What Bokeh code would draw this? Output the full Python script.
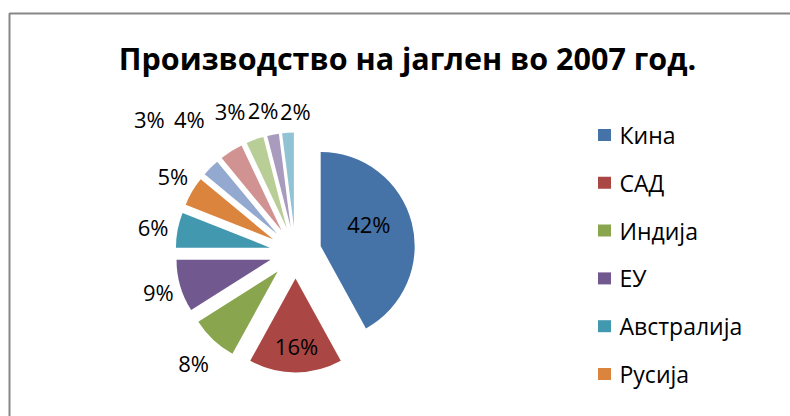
import numpy as np
from bokeh.plotting import figure
from bokeh.models import Range1d, ColumnDataSource
from bokeh.core.properties import value
from bokeh.embed import file_html
from bokeh.resources import INLINE

# ---------------- data ----------------
title_text = "Производство на јаглен во 2007 год."
categories = ["Кина", "САД", "Индија", "ЕУ", "Австралија", "Русија",
              "Индонезија", "Јужна Африка", "Казахстан", "Полска", "Колумбија"]
shares = [42, 16, 8, 9, 6, 5, 3, 4, 3, 2, 2]
pct_labels = [f"{v}%" for v in shares]
colors = ["#4572A7", "#AA4643", "#89A54E", "#71588F", "#4198AF", "#DB843D",
          "#93A9CF", "#D19392", "#B9CD96", "#A99BBD", "#92C3D5"]
legend_shown = 6

# ---------------- layout ----------------
W, H = 790, 416
FONT = "Open Sans"
CX, CY = 295, 164        # pie centre
R, EXP = 94, 26          # radius, explosion offset
R_IN, R_OUT = 85, 146    # label radii
inside = [True, True] + [False] * 9
nudges = [(-9, 7), (1, -8), (-2, -4), (3, 1), (1, -2), (3, 2),
          (-43, 30), (-28, 10), (-16, 4), (-5, -1), (9, -4)]

p = figure(width=W, height=H, x_range=Range1d(0, W), y_range=Range1d(0, H),
           output_backend="svg", toolbar_location=None, min_border=0,
           x_axis_type=None, y_axis_type=None)
p.outline_line_color = None
p.grid.visible = False
p.background_fill_color = "white"
p.border_fill_color = "white"

# chart frame (right and bottom edges run off the page)
p.quad(left=[9], right=[W + 20], top=[403], bottom=[-20],
       fill_color=None, line_color="#878787", line_width=2)

# title
p.text(x=[407], y=[359], text=[title_text], text_align="center",
       text_baseline="middle", text_font=value(FONT),
       text_font_style="bold", text_font_size="30.5px", text_color="#000000")

# pie geometry
vals = np.array(shares, dtype=float)
cum = np.concatenate([[0.0], np.cumsum(vals)]) / vals.sum() * 2 * np.pi
a0, a1 = cum[:-1], cum[1:]
mid = (a0 + a1) / 2
wx = CX + EXP * np.sin(mid)
wy = CY + EXP * np.cos(mid)
src = ColumnDataSource(dict(x=wx, y=wy, start=np.pi / 2 - a1, end=np.pi / 2 - a0,
                            color=colors, cat=categories))
p.wedge(x="x", y="y", radius=R, start_angle="start", end_angle="end",
        direction="anticlock", fill_color="color", line_color=None, source=src)

# data labels
lr = np.where(inside, R_IN, R_OUT)
lx = CX + lr * np.sin(mid) + np.array([n[0] for n in nudges])
ly = CY + lr * np.cos(mid) + np.array([n[1] for n in nudges])
p.text(x=lx, y=ly, text=pct_labels, text_align="center", text_baseline="middle",
       text_font=value(FONT), text_font_size="22px", text_color="#000000")

# legend
idx = np.arange(legend_shown)
ly_leg = 281.5 - 47.8 * idx
p.rect(x=[604] * legend_shown, y=ly_leg, width=13, height=12,
       fill_color=colors[:legend_shown], line_color=None)
p.text(x=[619] * legend_shown, y=ly_leg, text=categories[:legend_shown],
       text_align="left", text_baseline="middle", text_font=value(FONT),
       text_font_size="23px", text_color="#000000")

open("out.html", "w").write(file_html(p, INLINE))
